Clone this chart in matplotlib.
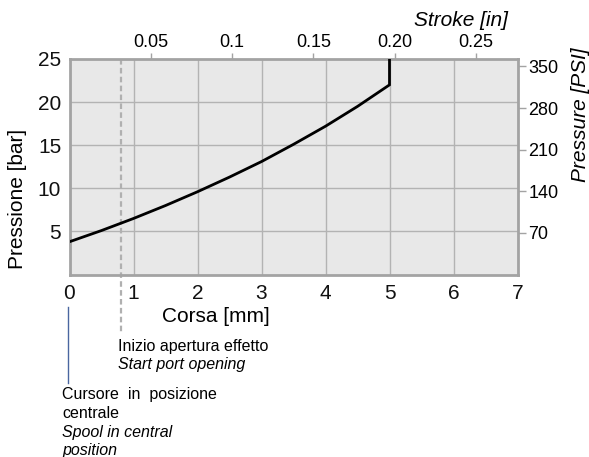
import matplotlib
matplotlib.use("Agg")
import matplotlib.pyplot as plt
import matplotlib.transforms as mtransforms

# Spool stroke (mm) vs pilot pressure (bar)
stroke_mm = [0.0, 0.5, 1.0, 1.5, 2.0, 2.5, 3.0, 3.5, 4.0, 4.5, 5.0, 5.0]
pressure_bar = [3.8, 5.1, 6.5, 8.0, 9.6, 11.3, 13.1, 15.1, 17.2, 19.5, 22.0, 25.0]

x_ticks_mm = [0, 1, 2, 3, 4, 5, 6, 7]
y_ticks_bar = [5, 10, 15, 20, 25]
top_ticks_in = [0.05, 0.1, 0.15, 0.20, 0.25]
top_tick_labels = ["0.05", "0.1", "0.15", "0.20", "0.25"]
psi_ticks = [70, 140, 210, 280, 350]

port_opening_mm = 0.8
BAR_TO_PSI = 14.5
MM_PER_IN = 25.4

FONT = "Liberation Sans"
plt.rcParams["font.family"] = [FONT, "DejaVu Sans"]

W, H = 589, 457
fig = plt.figure(figsize=(W / 100, H / 100), dpi=100)
ax = fig.add_axes([69.5 / W, 1 - 274.5 / H, 448 / W, 215.5 / H])

ax.set_facecolor("#e8e8e8")
ax.set_xlim(0, 7)
ax.set_ylim(0, 25)
ax.set_xticks(x_ticks_mm)
ax.set_yticks(y_ticks_bar)
ax.grid(True, color="#b3b3b3", linewidth=1.0)
ax.set_axisbelow(True)
for sp in ax.spines.values():
    sp.set_color("#a3a3a3")
    sp.set_linewidth(2.0)
ax.tick_params(axis="both", length=0, labelsize=15, colors="#111111")
ax.tick_params(axis="x", pad=7)
ax.tick_params(axis="y", pad=6)

# pressure curve
ax.plot(stroke_mm, pressure_bar, color="black", linewidth=2.0, zorder=3,
        solid_joinstyle="miter")

# start of port opening marker (runs below the axes)
trans = mtransforms.blended_transform_factory(ax.transData, ax.transAxes)
ax.plot([port_opening_mm, port_opening_mm], [1.0, -0.27], transform=trans,
        color="#b0b0b0", linewidth=1.6, linestyle=(0, (2.5, 1.5)),
        clip_on=False, zorder=2)

# spool central position marker
ax.plot([-0.03, -0.03], [-0.15, -0.505], transform=trans, color="#4a66a0",
        linewidth=1.0, clip_on=False)

# inch scale on top
secx = ax.secondary_xaxis("top", functions=(lambda v: v / MM_PER_IN,
                                            lambda v: v * MM_PER_IN))
secx.set_xticks(top_ticks_in, top_tick_labels)
secx.tick_params(length=4, width=1.0, color="#a3a3a3", labelsize=13, pad=2)
secx.spines["top"].set_visible(False)

# PSI scale on right
secy = ax.secondary_yaxis("right", functions=(lambda v: v * BAR_TO_PSI,
                                              lambda v: v / BAR_TO_PSI))
secy.set_yticks(psi_ticks)
secy.tick_params(length=6, width=1.0, color="#a3a3a3", labelsize=13, pad=2)
secy.spines["right"].set_visible(False)


def ftext(px, py, s, **kw):
    fig.text(px / W, 1 - py / H, s, **kw)


ftext(216, 317, "Corsa [mm]", ha="center", va="center", fontsize=15)
ftext(18, 199, "Pressione [bar]", ha="center", va="center", fontsize=15,
      rotation=90)
ftext(461, 20, "Stroke [in]", ha="center", va="center", fontsize=15,
      style="italic")
ftext(581, 115, "Pressure [PSI]", ha="center", va="center", fontsize=15,
      style="italic", rotation=90)

ftext(118, 347, "Inizio apertura effetto", ha="left", va="center",
      fontsize=11.5)
ftext(118, 365, "Start port opening", ha="left", va="center",
      fontsize=11.5, style="italic")
ftext(62, 394, "Cursore  in  posizione", ha="left", va="center",
      fontsize=11.5)
ftext(62, 413, "centrale", ha="left", va="center", fontsize=11.5)
ftext(62, 432, "Spool in central", ha="left", va="center", fontsize=11.5,
      style="italic")
ftext(62, 450, "position", ha="left", va="center", fontsize=11.5,
      style="italic")

fig.savefig("out.png", dpi=100, facecolor="white")
